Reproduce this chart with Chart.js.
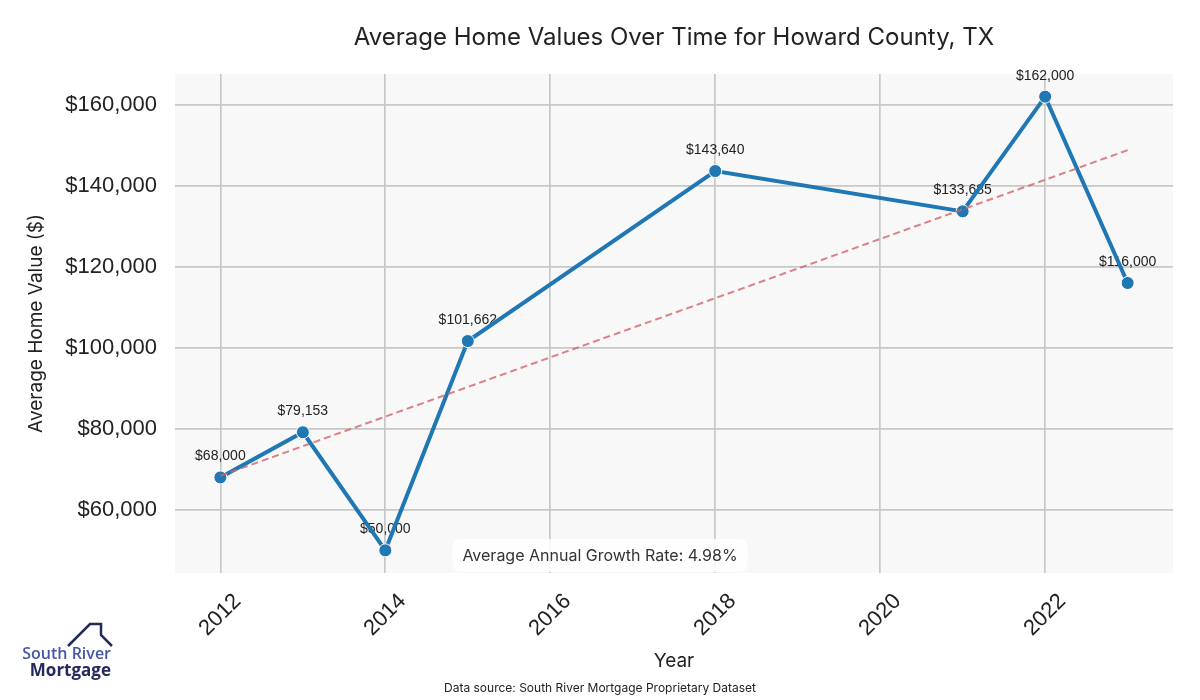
<!DOCTYPE html>
<html>
<head>
<meta charset="utf-8">
<title>Average Home Values - Howard County, TX</title>
<script src="https://cdn.jsdelivr.net/npm/chart.js@4.4.1/dist/chart.umd.min.js"></script>
<style>
  html, body { margin: 0; padding: 0; background: #fff; }
  #contenedor { width: 1200px; height: 700px; }
</style>
</head>
<body>
<div id="contenedor"><canvas id="grafico" width="1200" height="700"></canvas></div>
<script>
// datos
const years = [2012, 2013, 2014, 2015, 2018, 2021, 2022, 2023];
const homeValues = [68000, 79153, 50000, 101662, 143640, 133685, 162000, 116000];
const trendYears = [2012, 2023];
const trendValues = [68400, 148800];
const xTicks = [2012, 2014, 2016, 2018, 2020, 2022];
const yTicks = [60000, 80000, 100000, 120000, 140000, 160000];
const growthRate = "4.98%";

const titulo = "Average Home Values Over Time for Howard County, TX";
const fuente = "Data source: South River Mortgage Proprietary Dataset";

function money(v) {
  return "$" + v.toLocaleString("en-US");
}

Chart.defaults.font.family = "'Liberation Sans', Arial, sans-serif";
Chart.defaults.color = "#222";

// fondo del area de grafico
const fondo = {
  id: "fondo",
  beforeDraw(chart) {
    const { ctx, chartArea } = chart;
    ctx.save();
    ctx.fillStyle = "#fff";
    ctx.fillRect(0, 0, chart.width, chart.height);
    ctx.fillStyle = "#f8f8f8";
    ctx.fillRect(chartArea.left, chartArea.top, chartArea.right - chartArea.left, chartArea.bottom - chartArea.top);
    ctx.restore();
  },
};

// etiquetas de valores (debajo de las lineas)
const etiquetas = {
  id: "etiquetas",
  beforeDatasetsDraw(chart) {
    const { ctx } = chart;
    const meta = chart.getDatasetMeta(0);
    ctx.save();
    ctx.font = "14px 'Liberation Sans', Arial, sans-serif";
    ctx.fillStyle = "#222";
    ctx.textAlign = "center";
    ctx.textBaseline = "middle";
    meta.data.forEach(function (pt, i) {
      ctx.fillText(money(homeValues[i]), pt.x, pt.y - 21);
    });
    ctx.restore();
  },
};

// titulo, ticks x, anotacion, fuente y logo
const extras = {
  id: "extras",
  afterDraw(chart) {
    const { ctx, chartArea } = chart;
    const xScale = chart.scales.x;
    const cx = (chartArea.left + chartArea.right) / 2;
    ctx.save();

    // titulo
    ctx.fillStyle = "#222";
    ctx.font = "24px Inter, sans-serif";
    ctx.textAlign = "center";
    ctx.textBaseline = "middle";
    ctx.fillText(titulo, cx, 38, 652);

    // ticks del eje x rotados
    ctx.font = "22px 'Liberation Sans', Arial, sans-serif";
    xTicks.forEach(function (v) {
      const px = xScale.getPixelForValue(v);
      ctx.save();
      ctx.translate(px, chartArea.bottom + 42);
      ctx.rotate(-Math.PI / 4);
      ctx.fillText(String(v), 0, 0);
      ctx.restore();
    });

    // caja de anotacion
    const texto = "Average Annual Growth Rate: " + growthRate;
    ctx.font = "16px Inter, sans-serif";
    const w = ctx.measureText(texto).width + 20;
    const bx = chart.width / 2 - w / 2;
    const by = chartArea.bottom - 34;
    ctx.fillStyle = "rgba(255,255,255,0.85)";
    ctx.beginPath();
    ctx.roundRect(bx, by, w, 33, 8);
    ctx.fill();
    ctx.fillStyle = "#333";
    ctx.fillText(texto, chart.width / 2, by + 17);

    // fuente
    ctx.font = "12px Inter, sans-serif";
    ctx.fillStyle = "#222";
    ctx.fillText(fuente, chart.width / 2, 688, 325);

    // logo
    ctx.strokeStyle = "#232a5c";
    ctx.lineWidth = 2.5;
    ctx.lineJoin = "miter";
    ctx.beginPath();
    ctx.moveTo(68, 646);
    ctx.lineTo(90, 624);
    ctx.lineTo(101, 624);
    ctx.lineTo(101, 635);
    ctx.lineTo(112, 646);
    ctx.stroke();
    ctx.textAlign = "right";
    ctx.textBaseline = "alphabetic";
    ctx.fillStyle = "#4656a8";
    ctx.font = "600 16px 'Open Sans', sans-serif";
    ctx.fillText("South River", 111, 659);
    ctx.fillStyle = "#232a5c";
    ctx.font = "bold 17px 'Open Sans', sans-serif";
    ctx.fillText("Mortgage", 111, 676);

    ctx.restore();
  },
};

let ctx = document.getElementById("grafico").getContext("2d");
new Chart(ctx, {
  type: "line",
  data: {
    datasets: [
      {
        label: "Average Home Value",
        data: years.map(function (y, i) { return { x: y, y: homeValues[i] }; }),
        borderColor: "#1f77b4",
        borderWidth: 4,
        backgroundColor: "#1f77b4",
        pointBackgroundColor: "#1f77b4",
        pointBorderColor: "#fff",
        pointBorderWidth: 1,
        pointRadius: 6.5,
        tension: 0,
        order: 1,
      },
      {
        label: "Trend",
        data: trendYears.map(function (y, i) { return { x: y, y: trendValues[i] }; }),
        borderColor: "rgba(210,100,104,0.8)",
        borderWidth: 2,
        borderDash: [7, 4],
        pointRadius: 0,
        tension: 0,
        order: 0,
      },
    ],
  },
  options: {
    responsive: false,
    animation: false,
    devicePixelRatio: 1,
    layout: { padding: { top: 74, right: 27, bottom: 20, left: 0 } },
    plugins: {
      legend: { display: false },
      tooltip: { enabled: false },
      title: { display: false },
    },
    scales: {
      x: {
        type: "linear",
        min: 2011.45,
        max: 2023.55,
        afterBuildTicks: function (scale) {
          scale.ticks = xTicks.map(function (v) { return { value: v }; });
        },
        afterFit: function (scale) {
          scale.height = 107;
        },
        ticks: { display: false },
        grid: { color: "#c8c8c8", lineWidth: 1.7, drawTicks: false },
        border: { display: false },
        title: {
          display: true,
          text: "Year",
          font: { size: 19, family: "Inter, sans-serif" },
          color: "#222",
          padding: { top: 0, bottom: 7 },
        },
      },
      y: {
        min: 44400,
        max: 167600,
        afterBuildTicks: function (scale) {
          scale.ticks = yTicks.map(function (v) { return { value: v }; });
        },
        afterFit: function (scale) {
          scale.width = 175;
        },
        ticks: {
          font: { size: 22 },
          color: "#222",
          padding: 18,
          callback: function (v) { return money(v); },
        },
        grid: { color: "#c8c8c8", lineWidth: 1.7, drawTicks: false },
        border: { display: false },
        title: {
          display: true,
          text: "Average Home Value ($)",
          font: { size: 19, family: "Inter, sans-serif" },
          color: "#222",
          padding: { top: 25, bottom: 0 },
        },
      },
    },
  },
  plugins: [fondo, etiquetas, extras],
});
</script>
</body>
</html>
